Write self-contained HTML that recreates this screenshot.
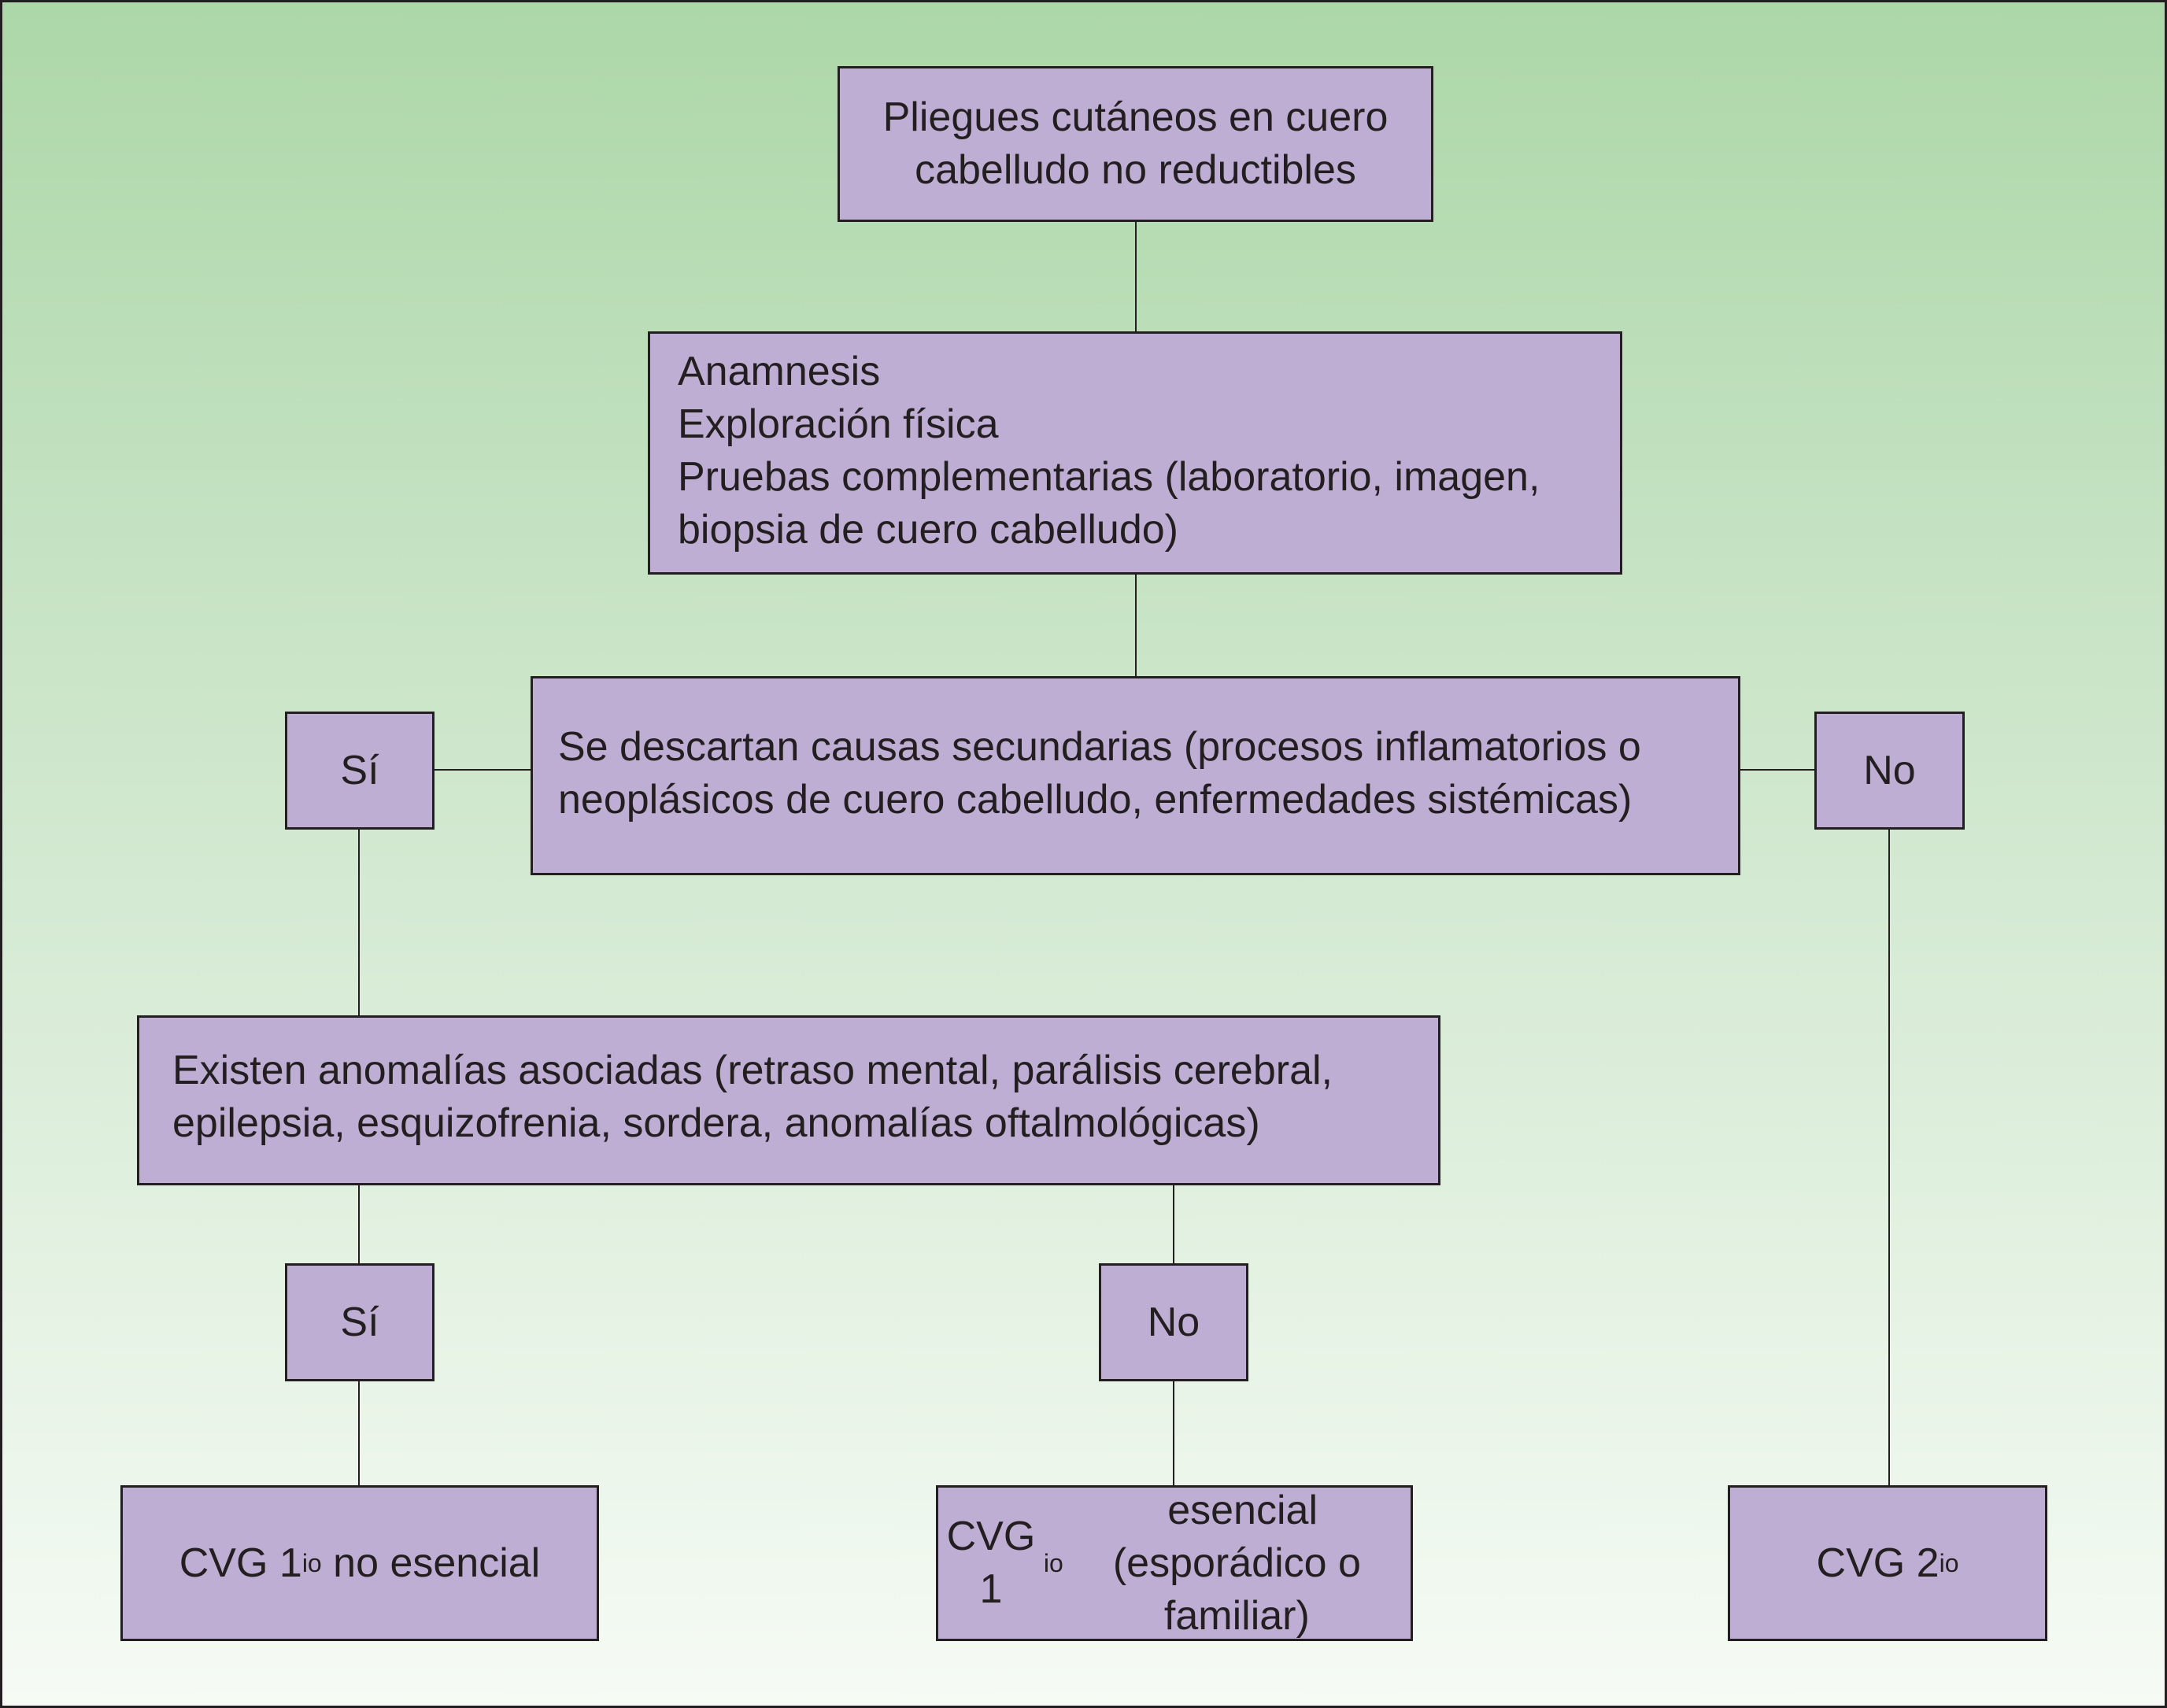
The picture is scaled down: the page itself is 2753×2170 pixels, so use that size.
<!DOCTYPE html>
<html><head><meta charset="utf-8"><style>
html,body{margin:0;padding:0}
body{width:2753px;height:2170px;position:relative;overflow:hidden;
background:linear-gradient(to bottom,#acd7a8 0%,#cfe7cd 45%,#f6fbf5 100%);
font-family:"Liberation Sans",sans-serif;color:#231f20}
.frame{position:absolute;left:0;top:0;width:2747px;height:2164px;border:3px solid #231f20}
.b{position:absolute;background:#bfaed4;border:3px solid #231f20;box-sizing:border-box;
display:flex;align-items:center;justify-content:center;text-align:center;font-size:52px;line-height:67px}
.l{justify-content:flex-start;text-align:left}
.v{position:absolute;width:2px;background:#231f20}
.h{position:absolute;height:2px;background:#231f20}
sup{font-size:32px;line-height:0;vertical-align:22px}
</style></head><body>
<div class="frame"></div>
<div class="v" style="left:1442px;top:281px;height:141px"></div>
<div class="v" style="left:1442px;top:729px;height:131px"></div>
<div class="h" style="left:551px;top:977px;width:124px"></div>
<div class="h" style="left:2210px;top:977px;width:96px"></div>
<div class="v" style="left:455px;top:1053px;height:238px"></div>
<div class="v" style="left:2399px;top:1053px;height:835px"></div>
<div class="v" style="left:455px;top:1505px;height:101px"></div>
<div class="v" style="left:1490px;top:1505px;height:101px"></div>
<div class="v" style="left:455px;top:1754px;height:134px"></div>
<div class="v" style="left:1490px;top:1754px;height:134px"></div>

<div class="b" style="left:1064px;top:84px;width:757px;height:198px">Pliegues cutáneos en cuero<br>cabelludo no reductibles</div>
<div class="b l" style="left:823px;top:421px;width:1238px;height:309px;padding-left:35px;padding-bottom:6px">Anamnesis<br>Exploración física<br>Pruebas complementarias (laboratorio, imagen,<br>biopsia de cuero cabelludo)</div>
<div class="b l" style="left:674px;top:859px;width:1537px;height:253px;padding-left:32px;padding-bottom:6px">Se descartan causas secundarias (procesos inflamatorios o<br>neoplásicos de cuero cabelludo, enfermedades sistémicas)</div>
<div class="b" style="left:362px;top:904px;width:190px;height:150px">Sí</div>
<div class="b" style="left:2305px;top:904px;width:191px;height:150px">No</div>
<div class="b l" style="left:174px;top:1290px;width:1656px;height:216px;padding-left:42px;padding-bottom:8px">Existen anomalías asociadas (retraso mental, parálisis cerebral,<br>epilepsia, esquizofrenia, sordera, anomalías oftalmológicas)</div>
<div class="b" style="left:362px;top:1605px;width:190px;height:150px">Sí</div>
<div class="b" style="left:1396px;top:1605px;width:190px;height:150px">No</div>
<div class="b" style="left:153px;top:1887px;width:608px;height:198px">CVG 1<sup>io</sup>&nbsp;no esencial</div>
<div class="b" style="left:1189px;top:1887px;width:606px;height:198px">CVG 1<sup>io</sup>&nbsp;esencial<br>(esporádico o familiar)</div>
<div class="b" style="left:2195px;top:1887px;width:406px;height:198px">CVG 2<sup>io</sup></div>
</body></html>
